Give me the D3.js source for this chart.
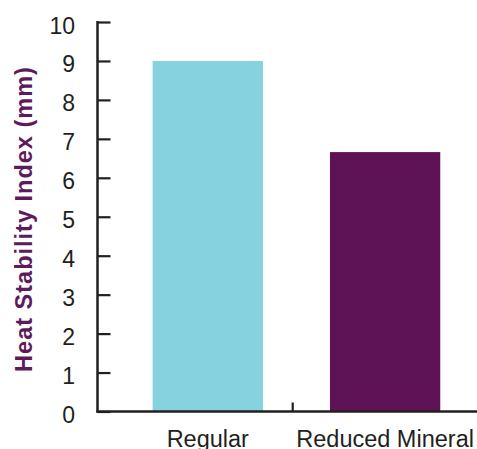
<!DOCTYPE html>
<html><head><meta charset="utf-8">
<script src="https://cdn.jsdelivr.net/npm/d3@7"></script>
<style>
html,body{margin:0;padding:0;background:#fff;overflow:hidden;}
svg{display:block;}
</style></head>
<body>
<script>
const categories = ["Regular", "Reduced Mineral"];
const values = [9.0, 6.66];
const barColors = ["#86d3df", "#5e1356"];
const yTicks = [0,1,2,3,4,5,6,7,8,9,10];
const yTitle = "Heat Stability Index (mm)";

const W = 477, H = 449;
const axisColor = "#231f20";
const svg = d3.select("body").append("svg").attr("width", W).attr("height", H);

const y = d3.scaleLinear().domain([0, 10]).range([411.5, 22]);
const x = d3.scaleBand().domain(categories).range([97.5, 495.4])
  .paddingInner(0.378).paddingOuter(0.311);
// category boundary scale (Excel style ticks between categories)
const xb = d3.scaleLinear().domain([0, categories.length]).range([97.5, 487.9]);

// bars
svg.selectAll("rect.bar").data(values).join("rect")
  .attr("class","bar")
  .attr("x", (d,i) => x(categories[i]))
  .attr("width", x.bandwidth())
  .attr("y", d => y(d))
  .attr("height", d => y(0) - y(d))
  .attr("fill", (d,i) => barColors[i]);

// y axis
const ya = svg.append("g").attr("transform", "translate(97.5,0)")
  .call(d3.axisRight(y).tickValues(yTicks).tickSize(13).tickFormat(d3.format("d")));
ya.select(".domain").attr("stroke", axisColor).attr("stroke-width", 2.5)
  .attr("d", `M0,${y(10)-1}V${y(0)+1}`);
ya.selectAll(".tick line").attr("stroke", axisColor).attr("stroke-width", 2.2);
ya.selectAll(".tick text").attr("x", -22.5).attr("dy", "0.48em")
  .attr("text-anchor", "end")
  .attr("fill", "#231f20")
  .style("font-family", "'Liberation Sans', Arial, Helvetica, sans-serif")
  .style("font-size", "23px");

// x axis line
svg.append("line").attr("x1", 96.3).attr("x2", W).attr("y1", y(0)).attr("y2", y(0))
  .attr("stroke", axisColor).attr("stroke-width", 2.3);
// category boundary ticks
svg.selectAll("line.xtick").data(d3.range(1, categories.length)).join("line")
  .attr("class","xtick")
  .attr("x1", d => xb(d)).attr("x2", d => xb(d))
  .attr("y1", y(0)).attr("y2", y(0) - 9)
  .attr("stroke", axisColor).attr("stroke-width", 2.2);

// x labels
svg.selectAll("text.xlab").data(categories).join("text")
  .attr("class","xlab")
  .attr("x", d => x(d) + x.bandwidth()/2)
  .attr("y", 446.5)
  .attr("text-anchor", "middle")
  .attr("fill", "#231f20")
  .style("font-family", "'Liberation Sans', Arial, Helvetica, sans-serif")
  .style("font-size", "23.5px")
  .text(d => d);

// y title
svg.append("text")
  .attr("transform", "translate(32,219) rotate(-90)")
  .attr("text-anchor", "middle")
  .attr("fill", "#5e1a5b")
  .style("font-family", "'Liberation Sans', Arial, Helvetica, sans-serif")
  .style("font-size", "23.5px")
  .style("font-weight", "bold")
  .style("letter-spacing", "1px")
  .text(yTitle);
</script>
</body></html>
